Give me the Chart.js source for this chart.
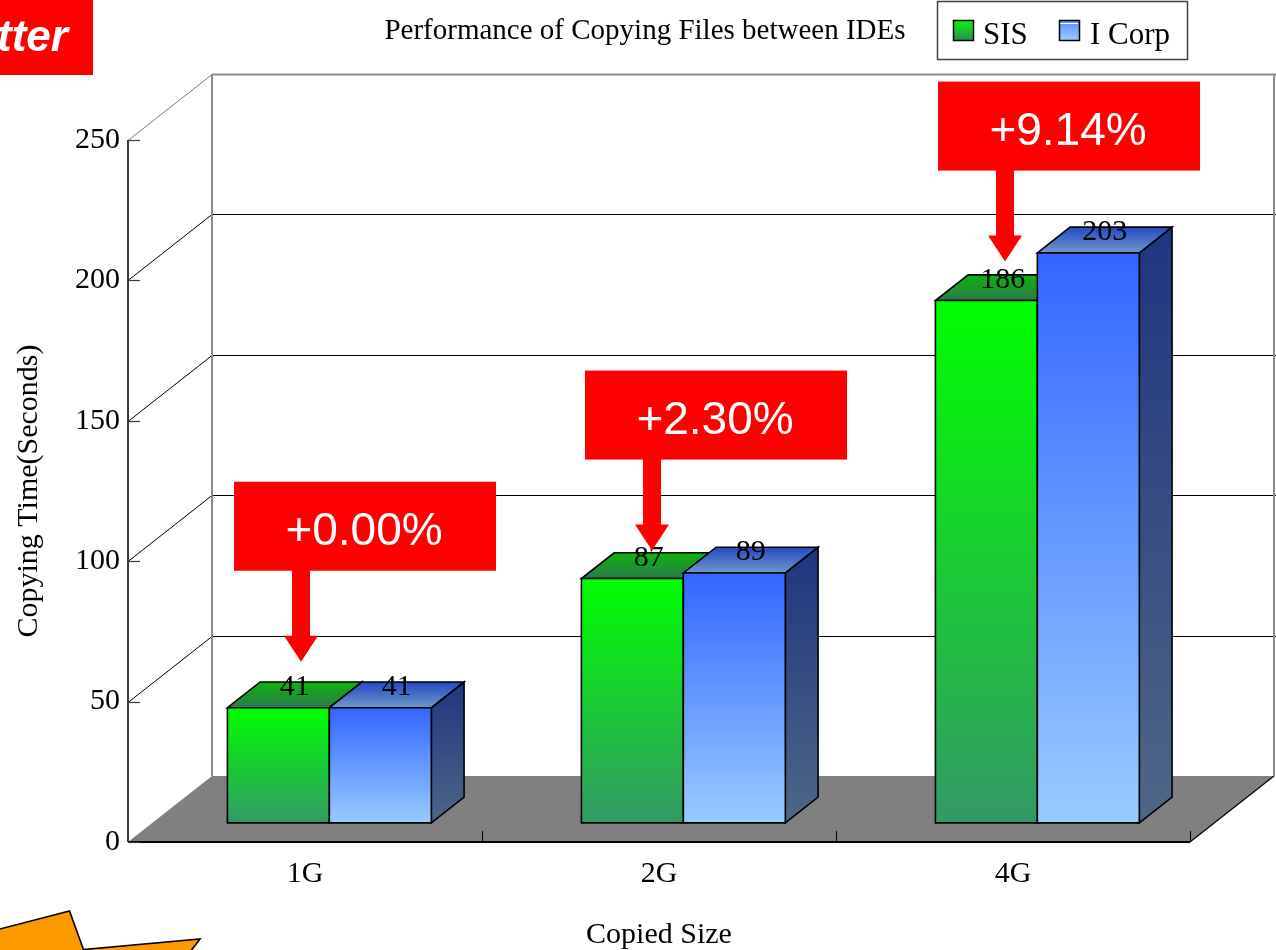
<!DOCTYPE html>
<html>
<head>
<meta charset="utf-8">
<script src="https://cdn.jsdelivr.net/npm/chart.js@4.4.1/dist/chart.umd.min.js"></script>
<style>
  html, body { margin: 0; padding: 0; background: #fff; }
  canvas { display: block; }
</style>
</head>
<body>
<canvas id="chart" width="1276" height="950"></canvas>
<script>
// ---- data ----
const categories = ['1G', '2G', '4G'];
const sisSeconds = [41, 87, 186];
const iCorpSeconds = [41, 89, 203];
const seriesNames = ['SIS', 'I Corp'];
const yTickValues = [0, 50, 100, 150, 200, 250];
const chartTitle = 'Performance of Copying Files between IDEs';
const xAxisTitle = 'Copied Size';
const yAxisTitle = 'Copying Time(Seconds)';
const cornerCaption = 'tter';

// ---- look ----
const SERIF = '"Liberation Serif", "Times New Roman", serif';
const SANS = '"Liberation Sans", Arial, sans-serif';

// 3-D projection: the back wall sits DEPTH behind the front plane,
// bars fill the slice between BAR_NEAR and BAR_FAR of that depth.
const DEPTH = { x: 84, y: -66 };
const BAR_NEAR = 0.29;
const BAR_FAR = 0.68;

const faceStyles = [
  { front: ['#00ff00', '#339966'], top: ['#0cb40c', '#2b7a4c'], side: ['#0b6e1c', '#22603f'] },
  { front: ['#3366ff', '#99ccff'], top: ['#2449c4', '#6e98c8'], side: ['#1f3580', '#4e6786'] }
];

// horizontal and vertical placement of each callout arrow tip relative to its SIS bar
const calloutShift = [47, 44, 43];
const calloutLift = [46, 28, 39];

function poly(ctx, pts) {
  ctx.beginPath();
  ctx.moveTo(pts[0][0], pts[0][1]);
  for (let i = 1; i < pts.length; i++) ctx.lineTo(pts[i][0], pts[i][1]);
  ctx.closePath();
}

function vGrad(ctx, y1, y2, c1, c2) {
  const g = ctx.createLinearGradient(0, y1, 0, y2);
  g.addColorStop(0, c1);
  g.addColorStop(1, c2);
  return g;
}

const stage = {
  id: 'stage',
  beforeDraw(chart) {
    const { ctx, chartArea: a, scales: { x, y } } = chart;
    const dx = DEPTH.x, dy = DEPTH.y;
    const y0 = y.getPixelForValue(0);
    const yTop = y.getPixelForValue(y.max);
    ctx.save();
    ctx.fillStyle = '#ffffff';
    ctx.fillRect(0, 0, chart.width, chart.height);

    // floor
    ctx.fillStyle = '#808080';
    poly(ctx, [[a.left, y0], [a.right, y0], [a.right + dx, y0 + dy], [a.left + dx, y0 + dy]]);
    ctx.fill();

    // back wall grid lines and their diagonals to the value axis
    yTickValues.forEach(v => {
      if (v === 0) return;
      const py = Math.round(y.getPixelForValue(v)) + 0.5;
      const isTop = v === y.max;
      ctx.strokeStyle = isTop ? '#8c8c8c' : '#000000';
      ctx.lineWidth = isTop ? 2 : 1;
      ctx.beginPath();
      ctx.moveTo(a.left + dx, py + dy);
      ctx.lineTo(a.right + dx + 2, py + dy);
      ctx.stroke();
      ctx.lineWidth = 1;
      ctx.strokeStyle = isTop ? '#7a7a7a' : '#000000';
      ctx.beginPath();
      ctx.moveTo(a.left, py);
      ctx.lineTo(a.left + dx, py + dy);
      ctx.stroke();
    });

    // back wall side edges
    ctx.strokeStyle = '#8c8c8c';
    ctx.lineWidth = 2;
    ctx.beginPath();
    ctx.moveTo(a.left + dx, yTop + dy);
    ctx.lineTo(a.left + dx, y0 + dy);
    ctx.moveTo(a.right + dx, yTop + dy);
    ctx.lineTo(a.right + dx, y0 + dy);
    ctx.stroke();

    // floor front edge and right edge
    ctx.strokeStyle = '#000000';
    ctx.lineWidth = 2;
    ctx.beginPath();
    ctx.moveTo(a.left, y0);
    ctx.lineTo(a.right, y0);
    ctx.stroke();
    ctx.lineWidth = 1.2;
    ctx.beginPath();
    ctx.moveTo(a.right, y0);
    ctx.lineTo(a.right + dx, y0 + dy);
    ctx.stroke();

    // category separators on the floor
    const half = (x.getPixelForValue(1) - x.getPixelForValue(0)) / 2;
    ctx.lineWidth = 1;
    categories.forEach((_, i) => {
      const px = Math.round(x.getPixelForValue(i) + half) + 0.5;
      ctx.beginPath();
      ctx.moveTo(px, y0);
      ctx.lineTo(px, y0 - 11);
      ctx.stroke();
    });

    // value axis line and inward tick marks
    ctx.strokeStyle = '#3a3a3a';
    ctx.lineWidth = 2;
    ctx.beginPath();
    ctx.moveTo(a.left, yTop);
    ctx.lineTo(a.left, y0);
    ctx.stroke();
    ctx.lineWidth = 1.2;
    yTickValues.forEach(v => {
      const py = Math.round(y.getPixelForValue(v)) + 0.5;
      ctx.beginPath();
      ctx.moveTo(a.left, py);
      ctx.lineTo(a.left + 12, py);
      ctx.stroke();
    });
    ctx.restore();
  },

  afterDatasetsDraw(chart) {
    const { ctx } = chart;
    const nx = DEPTH.x * BAR_NEAR, ny = DEPTH.y * BAR_NEAR;
    const bx = DEPTH.x * (BAR_FAR - BAR_NEAR), by = DEPTH.y * (BAR_FAR - BAR_NEAR);
    const labels = [];
    ctx.save();
    ctx.lineJoin = 'miter';
    categories.forEach((_, i) => {
      chart.data.datasets.forEach((ds, d) => {
        const bar = chart.getDatasetMeta(d).data[i];
        const { x, y, base, width } = bar.getProps(['x', 'y', 'base', 'width'], true);
        const L = x - width / 2 + nx, R = x + width / 2 + nx;
        const T = y + ny, B = base + ny;
        const st = faceStyles[d];
        ctx.strokeStyle = '#000000';
        ctx.lineWidth = 1.6;

        // right side
        poly(ctx, [[R, T], [R + bx, T + by], [R + bx, B + by], [R, B]]);
        ctx.fillStyle = vGrad(ctx, T + by, B, st.side[0], st.side[1]);
        ctx.fill();
        ctx.stroke();

        // top
        poly(ctx, [[L, T], [R, T], [R + bx, T + by], [L + bx, T + by]]);
        ctx.fillStyle = vGrad(ctx, T + by, T, st.top[0], st.top[1]);
        ctx.fill();
        ctx.stroke();

        // front
        poly(ctx, [[L, T], [R, T], [R, B], [L, B]]);
        ctx.fillStyle = vGrad(ctx, T, B, st.front[0], st.front[1]);
        ctx.fill();
        ctx.stroke();

        labels.push({ text: String(ds.data[i]), x: (L + R) / 2 + bx / 2, y: T + by + 13 });
      });
    });

    ctx.fillStyle = '#000000';
    ctx.font = '30px ' + SERIF;
    ctx.textAlign = 'center';
    ctx.textBaseline = 'alphabetic';
    labels.forEach(l => ctx.fillText(l.text, l.x, l.y));
    ctx.restore();
  },

  afterDraw(chart) {
    const { ctx } = chart;
    const ny = DEPTH.y * BAR_NEAR;
    ctx.save();

    // percentage callouts: I Corp time relative to SIS time
    const sisMeta = chart.getDatasetMeta(0);
    categories.forEach((_, i) => {
      const s = sisSeconds[i], c = iCorpSeconds[i];
      const text = '+' + ((c - s) / s * 100).toFixed(2) + '%';
      const bar = sisMeta.data[i];
      const tipX = bar.x + calloutShift[i];
      const tipY = bar.y + ny - calloutLift[i];
      const boxL = tipX - 67, boxT = tipY - 180, boxW = 262, boxH = 89;
      ctx.fillStyle = '#ff0000';
      ctx.fillRect(boxL, boxT, boxW, boxH);
      poly(ctx, [
        [tipX - 9, boxT + boxH - 1], [tipX + 9, boxT + boxH - 1], [tipX + 9, tipY - 26],
        [tipX + 17, tipY - 26], [tipX, tipY], [tipX - 17, tipY - 26], [tipX - 9, tipY - 26]
      ]);
      ctx.fill();
      ctx.fillStyle = '#ffffff';
      ctx.font = '46px ' + SANS;
      ctx.textAlign = 'center';
      ctx.textBaseline = 'alphabetic';
      ctx.fillText(text, boxL + boxW / 2 - 1, boxT + 63);
    });

    // title
    ctx.fillStyle = '#000000';
    ctx.font = '29px ' + SERIF;
    ctx.textAlign = 'center';
    ctx.fillText(chartTitle, 645, 39);

    // legend
    ctx.fillStyle = '#ffffff';
    ctx.fillRect(937, 1, 250, 58);
    ctx.strokeStyle = '#404040';
    ctx.lineWidth = 1.5;
    ctx.strokeRect(937.5, 1.5, 250, 58);
    const swatches = [
      { x: 953, c1: '#00ff00', c2: '#2e8b57', tx: 983 },
      { x: 1059, c1: '#5a8cff', c2: '#9cccff', tx: 1090 }
    ];
    chart.data.datasets.forEach((ds, d) => {
      const sw = swatches[d];
      ctx.fillStyle = vGrad(ctx, 20, 40, sw.c1, sw.c2);
      ctx.fillRect(sw.x, 20, 20, 20);
      if (d === 1) {
        ctx.strokeStyle = '#ffffff';
        ctx.lineWidth = 1;
        ctx.beginPath();
        ctx.moveTo(sw.x + 1, 23.5);
        ctx.lineTo(sw.x + 19, 23.5);
        ctx.stroke();
      }
      ctx.strokeStyle = '#000000';
      ctx.lineWidth = 1.5;
      ctx.strokeRect(sw.x + 0.5, 20.5, 20, 20);
      ctx.fillStyle = '#000000';
      ctx.font = '31px ' + SERIF;
      ctx.textAlign = 'left';
      ctx.fillText(ds.label, sw.tx, 44);
    });

    // corner caption
    ctx.fillStyle = '#ff0000';
    ctx.fillRect(0, 0, 93, 75);
    ctx.fillStyle = '#ffffff';
    ctx.font = 'italic bold 44px ' + SANS;
    ctx.textAlign = 'left';
    ctx.fillText(cornerCaption, -3, 51);

    // orange arrow shape at the lower left
    ctx.fillStyle = '#ff9900';
    ctx.strokeStyle = '#000000';
    ctx.lineWidth = 1.6;
    ctx.beginPath();
    ctx.moveTo(-2, 929.5);
    ctx.lineTo(69.5, 911);
    ctx.lineTo(83.5, 949.5);
    ctx.lineTo(200, 939);
    ctx.lineTo(190, 952);
    ctx.lineTo(-2, 952);
    ctx.closePath();
    ctx.fill();
    ctx.stroke();

    ctx.restore();
  }
};

const hiddenFill = 'rgba(0,0,0,0)';

new Chart(document.getElementById('chart'), {
  type: 'bar',
  data: {
    labels: categories,
    datasets: [
      { label: seriesNames[0], data: sisSeconds, backgroundColor: hiddenFill, borderColor: hiddenFill, borderWidth: 0 },
      { label: seriesNames[1], data: iCorpSeconds, backgroundColor: hiddenFill, borderColor: hiddenFill, borderWidth: 0 }
    ]
  },
  options: {
    responsive: false,
    animation: false,
    devicePixelRatio: 1,
    events: [],
    datasets: {
      bar: {
        categoryPercentage: 0.576,
        barPercentage: 1
      }
    },
    layout: { padding: { top: 140, right: 86, left: 0, bottom: 0 } },
    plugins: {
      colors: { enabled: false },
      legend: { display: false },
      title: { display: false },
      tooltip: { enabled: false }
    },
    scales: {
      x: {
        grid: { display: false, drawTicks: false },
        border: { display: false },
        ticks: { font: { family: SERIF, size: 30 }, color: '#000000', padding: 14 },
        title: {
          display: true, text: xAxisTitle, color: '#000000',
          font: { family: SERIF, size: 30 }, padding: { top: 0, bottom: -3 }
        },
        afterFit(s) { s.height = 108; }
      },
      y: {
        min: 0,
        max: 250,
        grid: { display: false, drawTicks: false },
        border: { display: false },
        ticks: { font: { family: SERIF, size: 30 }, color: '#000000', padding: 8 },
        afterBuildTicks(s) { s.ticks = yTickValues.map(v => ({ value: v })); },
        title: {
          display: true, text: yAxisTitle, color: '#000000',
          font: { family: SERIF, size: 30 }, padding: { top: 11, bottom: 0 }
        },
        afterFit(s) { s.width = 128; }
      }
    }
  },
  plugins: [stage]
});
</script>
</body>
</html>
